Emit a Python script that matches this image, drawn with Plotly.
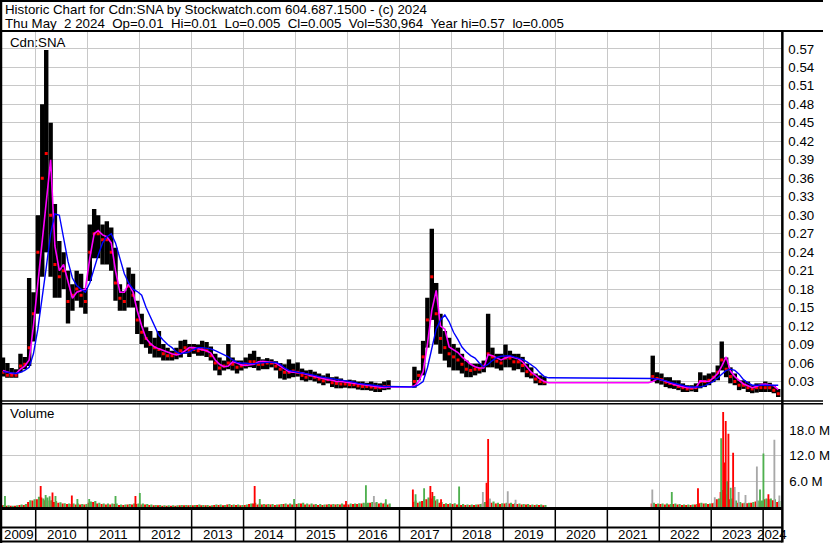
import plotly.graph_objects as go
import pandas as pd

W, H = 830, 543
FONT = "Arial, 'Liberation Sans', sans-serif"

# ---------------- data (monthly, May 2009 .. Apr 2024) ----------------
months = pd.date_range("2009-05-01", periods=180, freq="MS")
N = None

price_hi = [
    0.069, 0.06, 0.052, 0.05, 0.075, 0.07, 0.198, 0.175,                                   # 2009
    0.30, 0.48, 0.568, 0.45, 0.318, 0.258, 0.24, 0.21, 0.188, 0.21, 0.205, 0.182,           # 2010
    0.285, 0.31, 0.30, 0.285, 0.29, 0.28, 0.247, 0.188, 0.177, 0.215, 0.205, 0.161,         # 2011
    0.14, 0.118, 0.112, 0.101, 0.112, 0.091, 0.085, 0.08, 0.085, 0.096, 0.098, 0.091,       # 2012
    0.091, 0.09, 0.096, 0.094, 0.087, 0.075, 0.069, 0.064, 0.091, 0.069, 0.064, 0.064,      # 2013
    0.069, 0.075, 0.08, 0.07, 0.066, 0.068, 0.066, 0.063, 0.06, 0.058, 0.066, 0.059,        # 2014
    0.061, 0.051, 0.048, 0.049, 0.046, 0.043, 0.04, 0.043, 0.037, 0.038, 0.035, 0.032,      # 2015
    0.033, 0.032, 0.03, 0.03, 0.028, 0.03, 0.028, 0.027, 0.03, 0.032, N, N,                 # 2016
    N, N, N, 0.054, 0.048, 0.096, 0.166, 0.278, 0.19, 0.14, 0.112, 0.101,                   # 2017
    0.091, 0.085, 0.075, 0.064, 0.059, 0.059, 0.059, 0.064, 0.14, 0.085, 0.075, 0.075,      # 2018
    0.09, 0.08, 0.075, 0.075, 0.07, 0.059, 0.053, 0.043, 0.04, 0.038, N, N,                 # 2019
    N, N, N, N, N, N, N, N, N, N, N, N,                                                     # 2020
    N, N, N, N, N, N, N, N, N, N, 0.072, 0.045,                                             # 2021
    0.043, 0.037, 0.037, 0.032, 0.032, 0.027, 0.024, 0.024, 0.027, 0.045, 0.04, 0.043,      # 2022
    0.045, 0.056, 0.095, 0.069, 0.053, 0.043, 0.032, 0.032, 0.03, 0.024, 0.027, 0.027,      # 2023
    0.03, 0.028, 0.024, 0.018,                                                              # 2024
]
price_lo = [
    0.038, 0.036, 0.036, 0.036, 0.045, 0.05, 0.055, 0.095,
    0.14, 0.2, 0.24, 0.2, 0.166, 0.166, 0.18, 0.124, 0.145, 0.161, 0.15, 0.14,
    0.193, 0.23, 0.23, 0.22, 0.22, 0.21, 0.161, 0.145, 0.145, 0.15, 0.15, 0.107,
    0.091, 0.085, 0.075, 0.069, 0.069, 0.064, 0.064, 0.064, 0.066, 0.069, 0.075, 0.07,
    0.075, 0.072, 0.072, 0.07, 0.064, 0.048, 0.04, 0.048, 0.05, 0.048, 0.043, 0.048,
    0.051, 0.053, 0.052, 0.048, 0.05, 0.05, 0.053, 0.048, 0.035, 0.033, 0.035, 0.037,
    0.038, 0.032, 0.03, 0.032, 0.03, 0.027, 0.024, 0.027, 0.021, 0.019, 0.019, 0.02,
    0.019, 0.019, 0.017, 0.016, 0.016, 0.015, 0.013, 0.013, 0.016, 0.017, N, N,
    N, N, N, 0.02, 0.032, 0.04, 0.085, 0.13, 0.09, 0.075, 0.064, 0.053,
    0.048, 0.048, 0.043, 0.037, 0.037, 0.04, 0.043, 0.045, 0.053, 0.053, 0.051, 0.048,
    0.053, 0.053, 0.048, 0.05, 0.045, 0.037, 0.035, 0.027, 0.024, 0.024, N, N,
    N, N, N, N, N, N, N, N, N, N, N, N,
    N, N, N, N, N, N, N, N, N, N, 0.03, 0.027,
    0.025, 0.021, 0.019, 0.018, 0.016, 0.013, 0.013, 0.014, 0.013, 0.019, 0.021, 0.024,
    0.029, 0.032, 0.048, 0.037, 0.027, 0.024, 0.016, 0.018, 0.013, 0.011, 0.012, 0.013,
    0.013, 0.013, 0.011, 0.005,
]
price_close = [
    0.045, 0.04, 0.04, 0.04, 0.055, 0.058, 0.085, 0.14,
    0.24, 0.36, 0.40, 0.30, 0.22, 0.20, 0.21, 0.16, 0.17, 0.18, 0.17, 0.16,
    0.24, 0.27, 0.27, 0.26, 0.26, 0.24, 0.19, 0.165, 0.16, 0.185, 0.17, 0.13,
    0.11, 0.10, 0.09, 0.085, 0.082, 0.075, 0.072, 0.072, 0.075, 0.08, 0.085, 0.08,
    0.082, 0.08, 0.082, 0.08, 0.072, 0.06, 0.052, 0.055, 0.06, 0.058, 0.053, 0.055,
    0.058, 0.062, 0.062, 0.058, 0.058, 0.06, 0.06, 0.055, 0.05, 0.045, 0.045, 0.047,
    0.045, 0.04, 0.037, 0.04, 0.037, 0.034, 0.031, 0.033, 0.028, 0.027, 0.026, 0.026,
    0.025, 0.025, 0.023, 0.022, 0.022, 0.021, 0.02, 0.02, 0.022, 0.022, N, N,
    N, N, N, 0.03, 0.04, 0.07, 0.13, 0.20, 0.14, 0.10, 0.085, 0.075,
    0.07, 0.065, 0.058, 0.05, 0.048, 0.05, 0.05, 0.055, 0.075, 0.07, 0.063, 0.06,
    0.068, 0.068, 0.062, 0.062, 0.056, 0.046, 0.042, 0.034, 0.03, 0.029, N, N,
    N, N, N, N, N, N, N, N, N, N, N, N,
    N, N, N, N, N, N, N, N, N, N, 0.038, 0.035,
    0.033, 0.029, 0.027, 0.025, 0.022, 0.02, 0.018, 0.019, 0.02, 0.03, 0.03, 0.032,
    0.037, 0.045, 0.065, 0.05, 0.038, 0.03, 0.024, 0.024, 0.02, 0.018, 0.02, 0.02,
    0.02, 0.02, 0.016, 0.01,
]
ma_fast = [
    0.048, 0.046, 0.043, 0.043, 0.05, 0.055, 0.065, 0.12,
    0.19, 0.26, 0.33, 0.39, 0.25, 0.21, 0.22, 0.19, 0.165, 0.175, 0.178, 0.18,
    0.23, 0.27, 0.275, 0.268, 0.265, 0.255, 0.21, 0.175, 0.175, 0.188, 0.175, 0.145,
    0.12, 0.10, 0.092, 0.086, 0.083, 0.08, 0.077, 0.075, 0.073, 0.075, 0.08, 0.085,
    0.085, 0.083, 0.082, 0.08, 0.076, 0.065, 0.058, 0.054, 0.055, 0.062, 0.06, 0.057,
    0.056, 0.057, 0.058, 0.062, 0.063, 0.062, 0.061, 0.06, 0.055, 0.05, 0.046, 0.045,
    0.045, 0.044, 0.042, 0.04, 0.038, 0.036, 0.035, 0.033, 0.032, 0.03, 0.03, 0.029,
    0.028, 0.027, 0.026, 0.025, 0.024, 0.023, 0.022, 0.021, 0.02, 0.021, 0.021, 0.021,
    0.021, 0.021, 0.021, 0.023, 0.03, 0.046, 0.09, 0.145, 0.178, 0.12, 0.115, 0.086,
    0.082, 0.077, 0.07, 0.064, 0.058, 0.054, 0.052, 0.052, 0.074, 0.072, 0.068, 0.065,
    0.068, 0.071, 0.069, 0.067, 0.062, 0.053, 0.045, 0.04, 0.034, 0.03, 0.028, 0.028,
    0.028, 0.028, 0.028, 0.028, 0.028, 0.028, 0.028, 0.028, 0.028, 0.028, 0.028, 0.028,
    0.028, 0.028, 0.028, 0.028, 0.028, 0.028, 0.028, 0.028, 0.028, 0.028, 0.03, 0.034,
    0.033, 0.03, 0.028, 0.025, 0.023, 0.021, 0.02, 0.02, 0.02, 0.031, 0.03, 0.03,
    0.036, 0.043, 0.055, 0.07, 0.047, 0.038, 0.032, 0.026, 0.023, 0.02, 0.022, 0.025,
    0.026, 0.025, 0.023, 0.017,
]
ma_slow = [
    0.046, 0.045, 0.044, 0.043, 0.045, 0.048, 0.053, 0.075,
    0.115, 0.165, 0.215, 0.27, 0.302, 0.30, 0.265, 0.225, 0.198, 0.186, 0.18, 0.175,
    0.19, 0.215, 0.235, 0.255, 0.265, 0.27, 0.255, 0.23, 0.205, 0.19, 0.18, 0.176,
    0.17, 0.15, 0.135, 0.118, 0.105, 0.097, 0.09, 0.085, 0.078, 0.075, 0.076, 0.078,
    0.082, 0.085, 0.085, 0.084, 0.083, 0.08, 0.077, 0.074, 0.07, 0.065, 0.061, 0.06,
    0.059, 0.059, 0.059, 0.06, 0.061, 0.061, 0.061, 0.061, 0.058, 0.052, 0.048, 0.046,
    0.045, 0.044, 0.043, 0.041, 0.04, 0.038, 0.037, 0.036, 0.035, 0.033, 0.032, 0.031,
    0.03, 0.029, 0.027, 0.026, 0.025, 0.024, 0.023, 0.022, 0.022, 0.022, 0.022, 0.022,
    0.022, 0.022, 0.022, 0.021, 0.025, 0.03, 0.052, 0.085, 0.115, 0.13, 0.138, 0.127,
    0.11, 0.098, 0.086, 0.078, 0.072, 0.068, 0.06, 0.054, 0.058, 0.064, 0.069, 0.071,
    0.072, 0.072, 0.07, 0.068, 0.066, 0.062, 0.057, 0.052, 0.044, 0.038, 0.036, 0.036,
    0.036, 0.036, 0.036, 0.036, 0.036, 0.036, 0.036, 0.036, 0.036, 0.036, 0.036, 0.036,
    0.036, 0.036, 0.036, 0.036, 0.036, 0.036, 0.036, 0.036, 0.036, 0.036, 0.035, 0.034,
    0.033, 0.031, 0.029, 0.027, 0.025, 0.023, 0.022, 0.021, 0.021, 0.021, 0.023, 0.026,
    0.03, 0.036, 0.042, 0.048, 0.05, 0.048, 0.042, 0.033, 0.028, 0.024, 0.024, 0.024,
    0.024, 0.024, 0.024, 0.024,
]
# typical monthly volume (millions): down-day and up-day bars
vol_down = [
    0.4, 0.3, 0.3, 0.3, 0.5, 0.5, 1.2, 1.5,
    1.8, 2.2, 1.6, 1.5, 1.2, 1.0, 0.8, 0.7, 0.7, 0.6, 0.6, 0.6,
    1.0, 1.2, 0.8, 0.7, 0.6, 0.6, 0.7, 0.5, 0.5, 0.6, 0.6, 0.7,
    0.6, 0.6, 0.5, 0.4, 0.4, 0.3, 0.3, 0.3, 0.3, 0.4, 0.4, 0.4,
    0.4, 0.5, 0.4, 0.4, 0.3, 0.5, 0.5, 0.4, 0.6, 0.5, 0.5, 0.4,
    0.5, 0.7, 0.8, 0.6, 0.6, 0.6, 0.6, 0.5, 0.6, 0.7, 0.6, 0.6,
    0.7, 0.8, 0.6, 0.6, 0.6, 0.5, 0.5, 0.6, 0.6, 0.6, 0.6, 0.6,
    0.6, 0.7, 0.7, 0.8, 0.8, 1.0, 1.0, 0.8, 0.8, 0.6, N, N,
    N, N, N, 1.2, 1.0, 1.4, 1.8, 2.0, 1.5, 1.0, 0.7, 0.7,
    0.7, 0.6, 0.5, 0.5, 0.5, 0.5, 0.6, 0.8, 1.5, 1.0, 0.8, 0.7,
    0.8, 0.8, 0.7, 0.7, 0.6, 0.6, 0.5, 0.5, 0.5, 0.4, N, N,
    N, N, N, N, N, N, N, N, N, N, N, N,
    N, N, N, N, N, N, N, N, N, N, 0.8, 0.7,
    0.7, 0.6, 0.6, 0.7, 0.6, 0.5, 0.5, 0.5, 0.6, 0.9, 0.8, 0.7,
    0.9, 1.8, 3.5, 2.5, 1.8, 1.3, 1.0, 0.9, 0.9, 1.0, 1.3, 1.3,
    1.8, 1.8, 1.6, 1.2,
]
vol_up = [
    0.5, 0.4, 0.3, 0.4, 0.6, 0.7, 1.6, 1.8,
    2.4, 2.0, 2.2, 1.6, 1.4, 1.1, 0.9, 0.8, 0.8, 0.8, 0.7, 0.7,
    1.3, 1.4, 1.0, 0.8, 0.8, 0.8, 0.8, 0.6, 0.6, 0.7, 0.8, 0.8,
    0.8, 0.7, 0.6, 0.5, 0.5, 0.4, 0.4, 0.4, 0.4, 0.5, 0.5, 0.5,
    0.5, 0.6, 0.5, 0.5, 0.4, 0.6, 0.6, 0.5, 0.7, 0.6, 0.6, 0.5,
    0.6, 0.8, 1.0, 0.8, 0.7, 0.7, 0.7, 0.6, 0.7, 0.8, 0.8, 0.8,
    0.9, 1.0, 0.8, 0.8, 0.7, 0.7, 0.6, 0.7, 0.7, 0.7, 0.8, 0.7,
    0.8, 0.8, 0.9, 1.0, 1.0, 1.2, 1.2, 1.0, 1.0, 0.8, N, N,
    N, N, N, 1.5, 1.3, 1.8, 2.2, 2.5, 1.8, 1.2, 0.9, 0.9,
    0.9, 0.8, 0.7, 0.6, 0.6, 0.6, 0.7, 1.2, 1.8, 1.3, 1.0, 0.9,
    1.0, 1.0, 0.9, 0.8, 0.7, 0.7, 0.6, 0.6, 0.6, 0.5, N, N,
    N, N, N, N, N, N, N, N, N, N, N, N,
    N, N, N, N, N, N, N, N, N, N, 1.0, 0.8,
    0.8, 0.8, 0.7, 0.8, 0.7, 0.6, 0.6, 0.6, 0.7, 1.0, 0.9, 0.8,
    1.0, 2.0, 4.0, 3.0, 2.0, 1.5, 1.2, 1.0, 1.0, 1.2, 1.5, 1.5,
    2.0, 2.0, 1.8, 1.4,
]
# individual high-volume days (millions)
spike_dates = [
    "2009-05-30", "2010-02-05", "2010-03-12", "2010-04-09", "2010-04-29", "2010-05-20",
    "2010-09-12", "2010-10-21", "2011-01-12", "2011-07-16", "2011-12-03", "2012-01-03",
    "2014-03-20", "2014-04-25", "2014-12-22", "2015-12-22", "2016-05-10", "2016-07-05",
    "2016-09-27", "2017-04-05", "2017-04-24", "2017-06-23", "2017-08-06", "2017-08-20",
    "2017-09-03", "2017-10-20", "2018-02-24", "2018-08-10", "2018-09-05", "2018-09-16",
    "2018-09-28", "2019-02-01", "2019-03-28", "2021-11-13", "2022-03-30", "2022-09-30",
    "2023-01-26", "2023-03-12", "2023-03-26", "2023-04-06", "2023-04-13", "2023-04-23",
    "2023-05-02", "2023-05-18", "2023-06-04", "2023-06-15", "2023-07-13", "2023-08-30",
    "2023-11-18", "2023-12-10", "2024-01-03", "2024-02-07", "2024-03-20", "2024-04-24",
]
spike_vols = [
    2.6, 4.9, 2.8, 2.5, 3.4, 2.6,
    2.7, 1.9, 1.9, 2.6, 2.6, 3.3,
    4.9, 1.9, 1.9, 1.4, 5.1, 2.6,
    1.8, 4.1, 3.0, 4.4, 4.9, 3.5,
    2.6, 1.8, 4.8, 3.5, 5.7, 15.9,
    2.0, 3.7, 1.7, 4.1, 3.5, 4.4,
    2.3, 16.1, 22.2, 10.4, 20.1, 6.0,
    17.1, 4.5, 12.7, 4.7, 3.5, 2.8,
    9.5, 4.1, 12.5, 3.0, 15.7, 2.7,
]
spike_kind = [
    "up", "down", "up", "up", "down", "up",
    "down", "up", "up", "up", "down", "up",
    "down", "up", "up", "down", "up", "flat",
    "up", "down", "up", "up", "down", "down",
    "up", "down", "up", "flat", "down", "down",
    "flat", "flat", "flat", "flat", "up", "down",
    "flat", "up", "down", "down", "down", "up",
    "down", "up", "down", "flat", "flat", "flat",
    "flat", "up", "up", "down", "flat", "flat",
]
price_ticks = [0.03, 0.06, 0.09, 0.12, 0.15, 0.18, 0.21, 0.24, 0.27, 0.30,
               0.33, 0.36, 0.39, 0.42, 0.45, 0.48, 0.51, 0.54, 0.57]
vol_ticks = [6, 12, 18]
vol_tick_text = ["6.0 M", "12.0 M", "18.0 M"]
years = ["2009", "2010", "2011", "2012", "2013", "2014", "2015", "2016",
         "2017", "2018", "2019", "2020", "2021", "2022", "2023", "2024"]
header1 = "Historic Chart for Cdn:SNA by Stockwatch.com 604.687.1500 - (c) 2024"
header2 = "Thu May  2 2024  Op=0.01  Hi=0.01  Lo=0.005  Cl=0.005  Vol=530,964  Year hi=0.57  lo=0.005"

# ---------------- helpers ----------------
def py(p):
    return 1 - p / H

def px(p):
    return p / W

DAY = 86400000
mid = months + pd.Timedelta(days=15)
KIND_COLOR = {"up": "#4fb04f", "down": "#ff0000", "flat": "#a8a8a8"}

fig = go.Figure()

# price range bars
fig.add_trace(go.Bar(
    x=mid, y=[None if h is None else h - l for h, l in zip(price_hi, price_lo)],
    base=price_lo, width=31 * DAY, marker=dict(color="black", line=dict(width=0)),
    xaxis="x", yaxis="y", hoverinfo="skip"))
fig.add_trace(go.Scatter(
    x=mid, y=price_close, mode="markers",
    marker=dict(symbol="square", size=3, color="#ff0000", line=dict(width=0)),
    xaxis="x", yaxis="y", hoverinfo="skip"))
fig.add_trace(go.Scatter(x=mid, y=ma_fast, mode="lines",
                         line=dict(color="#ff00ff", width=1.6), xaxis="x", yaxis="y", hoverinfo="skip"))
fig.add_trace(go.Scatter(x=mid, y=ma_slow, mode="lines",
                         line=dict(color="#0000ff", width=1.4), xaxis="x", yaxis="y", hoverinfo="skip"))

# volume
fig.add_trace(go.Bar(x=months + pd.Timedelta(days=8), y=vol_down, width=15 * DAY,
                     marker=dict(color="#ff0000", line=dict(width=0)), xaxis="x2", yaxis="y2", hoverinfo="skip"))
fig.add_trace(go.Bar(x=months + pd.Timedelta(days=23), y=vol_up, width=15 * DAY,
                     marker=dict(color="#4fb04f", line=dict(width=0)), xaxis="x2", yaxis="y2", hoverinfo="skip"))
fig.add_trace(go.Bar(x=pd.to_datetime(spike_dates), y=spike_vols, width=13 * DAY,
                     marker=dict(color=[KIND_COLOR[k] for k in spike_kind], line=dict(width=0)),
                     xaxis="x2", yaxis="y2", hoverinfo="skip"))

year_starts = [f"{y}-01-01" for y in years[1:]]
x_range = ["2009-05-09", "2024-05-15"]
grid = "#c8c8c8"

fig.update_layout(
    width=W, height=H, margin=dict(l=0, r=0, t=0, b=0),
    paper_bgcolor="white", plot_bgcolor="white",
    showlegend=False, barmode="overlay", hovermode=False,
    font=dict(family=FONT, size=13.3, color="black"),
    xaxis=dict(domain=[px(2), px(789)], range=x_range, type="date", anchor="y",
               tickvals=year_starts, showticklabels=False, ticks="",
               showgrid=True, gridcolor=grid, gridwidth=1, zeroline=False, showline=False),
    yaxis=dict(domain=[py(400), py(32)], range=[0, 0.5974], side="right", anchor="x",
               tickvals=price_ticks, tickformat=".2f", ticks="", ticklabelstandoff=5,
               showgrid=True, gridcolor=grid, gridwidth=1, zeroline=False, showline=False,
               tickfont=dict(family=FONT, size=13.3, color="black")),
    xaxis2=dict(domain=[px(2), px(789)], range=x_range, type="date", anchor="y2", matches="x",
                tickvals=year_starts, showticklabels=False, ticks="",
                showgrid=True, gridcolor=grid, gridwidth=1, zeroline=False, showline=False),
    yaxis2=dict(domain=[py(508), py(403.5)], range=[-0.23, 24.2], side="right", anchor="x2",
                tickvals=vol_ticks, ticktext=vol_tick_text, ticks="", ticklabelstandoff=6,
                showgrid=True, gridcolor=grid, gridwidth=1, zeroline=False, showline=False,
                tickfont=dict(family=FONT, size=13.3, color="black")),
)

shapes = []
def hline(y, x0, x1, w):
    shapes.append(dict(type="line", xref="paper", yref="paper", x0=px(x0), x1=px(x1),
                       y0=py(y), y1=py(y), line=dict(color="black", width=w), layer="above"))
def vline(x, y0, y1, w):
    shapes.append(dict(type="line", xref="paper", yref="paper", x0=px(x), x1=px(x),
                       y0=py(y0), y1=py(y1), line=dict(color="black", width=w), layer="above"))

hline(1, 0, 830, 2)
hline(31, 0, 830, 2)
hline(401, 0, 830, 1.5)
hline(403.8, 0, 830, 1.5)
hline(508.5, 0, 789, 3)
hline(527.5, 0, 789, 2)
hline(541.5, 0, 789, 2)
vline(1, 0, 543, 2.5)
vline(789, 31, 542.5, 2.5)
for ys in year_starts:
    shapes.append(dict(type="line", xref="x", yref="paper", x0=ys, x1=ys,
                       y0=py(509), y1=py(541), line=dict(color="black", width=1.5), layer="above"))

annotations = []
def text(t, x, y, anchor="left"):
    annotations.append(dict(text=t.replace("  ", " \u00a0"), xref="paper", yref="paper",
                            x=px(x), y=py(y), xanchor=anchor, yanchor="middle", showarrow=False,
                            font=dict(family=FONT, size=13.3, color="black")))

text(header1, 3, 9.5)
text(header2, 3, 23.5)
text("Cdn:SNA", 8, 42.5)
text("Volume", 8, 413.5)

year_label_pos = ["2009-09-05"] + [f"{y}-07-02" for y in years[1:-1]] + ["2024-03-05"]
for lab, pos in zip(years, year_label_pos):
    annotations.append(dict(text=lab, xref="x", yref="paper", x=pos, y=py(534.5),
                            xanchor="center", yanchor="middle", showarrow=False,
                            font=dict(family=FONT, size=13.3, color="black")))

fig.update_layout(shapes=shapes, annotations=annotations)
fig.write_html("out.html", config={"displayModeBar": False, "staticPlot": True},
               post_script="document.body.style.margin='0';document.body.style.overflow='hidden';")
